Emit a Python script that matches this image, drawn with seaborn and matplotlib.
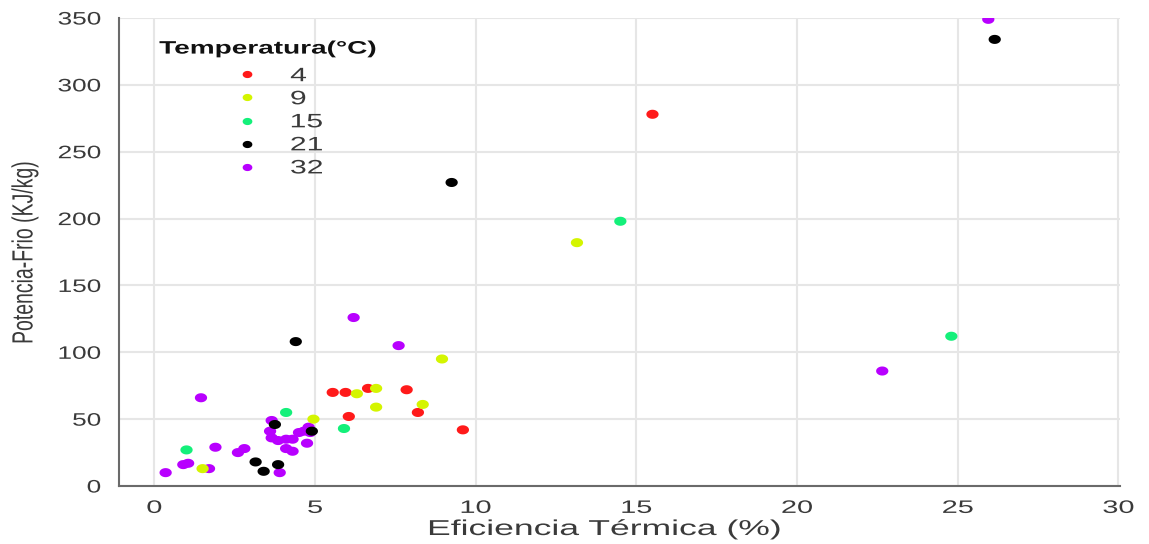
import numpy as np
import pandas as pd
import seaborn as sns
import matplotlib
matplotlib.use("Agg")
import matplotlib.pyplot as plt
from matplotlib.path import Path
from matplotlib.lines import Line2D
from matplotlib.patheffects import AbstractPathEffect
from matplotlib.transforms import Affine2D

# Eficiencia térmica (%) y potencia frigorífica (KJ/kg) por temperatura
t4_x = [15.5, 7.85, 8.2, 9.6, 5.55, 5.95, 6.05, 6.65]
t4_y = [278, 72, 55, 42, 70, 70, 52, 73]

t9_x = [13.15, 8.95, 6.9, 6.3, 6.9, 8.35, 4.95, 1.5]
t9_y = [182, 95, 73, 69, 59, 61, 50, 13]

t15_x = [14.5, 24.8, 1.0, 4.1, 5.9]
t15_y = [198, 112, 27, 55, 43]

t21_x = [26.15, 9.25, 4.4, 3.75, 4.9, 3.15, 3.85, 3.4]
t21_y = [334, 227, 108, 46, 41, 18, 16, 11]

t32_x = [25.95, 22.65, 6.2, 7.6, 1.45, 1.9, 1.05, 0.9, 1.7, 0.35, 3.65, 3.6,
         3.65, 3.85, 4.1, 4.3, 4.5, 4.65, 4.8, 4.85, 4.75, 4.1, 4.3, 2.8, 2.6, 3.9]
t32_y = [349, 86, 126, 105, 66, 29, 17, 16, 13, 10, 49, 41,
         36, 34, 35, 35, 40, 41, 44, 40, 32, 28, 26, 28, 25, 10]

temps = ["4", "9", "15", "21", "32"]
colors = ["#ff1a1a", "#d4f500", "#14f07a", "#000000", "#b800ff"]
x_ticks = [0, 5, 10, 15, 20, 25, 30]
y_ticks = [0, 50, 100, 150, 200, 250, 300, 350]

series = {"4": (t4_x, t4_y), "9": (t9_x, t9_y), "15": (t15_x, t15_y),
          "21": (t21_x, t21_y), "32": (t32_x, t32_y)}
draw_order = ["32", "4", "9", "15", "21"]
df = pd.concat(
    [pd.DataFrame({"ef": series[t][0], "pot": series[t][1], "temp": t}) for t in draw_order],
    ignore_index=True,
)
palette = dict(zip(temps, colors))


class Widen(AbstractPathEffect):
    """Draw text glyphs stretched horizontally about a chosen anchor."""

    def __init__(self, sx=1.6, anchor="center"):
        super().__init__()
        self.sx = sx
        self.anchor = anchor

    def draw_path(self, renderer, gc, tpath, affine, rgbFace=None):
        if len(tpath.vertices) == 0:
            return
        ext = tpath.get_extents(affine)
        if self.anchor == "left":
            x0 = ext.x0
        elif self.anchor == "right":
            x0 = ext.x1
        else:
            x0 = 0.5 * (ext.x0 + ext.x1)
        tr = affine + Affine2D().translate(-x0, 0).scale(self.sx, 1).translate(x0, 0)
        renderer.draw_path(gc, tpath, tr, rgbFace)


sns.set_theme(style="whitegrid")
plt.rcParams["font.family"] = ["Liberation Sans", "DejaVu Sans"]

fig = plt.figure(figsize=(11.49, 5.44), dpi=100)
ax = fig.add_axes([0.1036, 0.1066, 0.8712, 0.8603])

# slightly wide elliptical dot
th = np.linspace(0, 2 * np.pi, 40)
ellipse = Path(np.column_stack([np.cos(th), 0.74 * np.sin(th)]), closed=True)

sns.scatterplot(data=df, x="ef", y="pot", hue="temp", hue_order=temps,
                palette=palette, marker=ellipse, s=78, linewidth=0,
                legend=False, ax=ax)

ax.set_xlim(-1.1, 30.05)
ax.set_ylim(0, 350)
ax.set_xticks(x_ticks)
ax.set_yticks(y_ticks)
ax.grid(True, color="#e6e6e6", linewidth=1.5)
ax.set_axisbelow(True)
for side in ["top", "right"]:
    ax.spines[side].set_visible(False)
for side in ["left", "bottom"]:
    ax.spines[side].set_color("#6a6a6a")
    ax.spines[side].set_linewidth(1.5)
ax.tick_params(axis="both", direction="in", length=6, width=1.2, color="#6a6a6a",
               labelsize=13, labelcolor="#3a3a3a")
ax.tick_params(axis="x", pad=10)
ax.tick_params(axis="y", pad=13)

ax.set_xlabel("Eficiencia Térmica (%)", fontsize=15.5, color="#3a3a3a")
ax.set_ylabel("Potencia-Frio (KJ/kg)", fontsize=14, color="#3a3a3a")
ax.xaxis.set_label_coords(0.4845, -0.0705)
ax.yaxis.set_label_coords(-0.085, 0.5)

for lab in ax.get_xticklabels():
    lab.set_path_effects([Widen(1.6, "center")])
for lab in ax.get_yticklabels():
    lab.set_path_effects([Widen(1.45, "right")])
ax.xaxis.label.set_path_effects([Widen(1.65, "center")])
ax.yaxis.label.set_path_effects([Widen(1.5, "center")])

handles = [Line2D([], [], linestyle="none", marker=ellipse, markersize=7,
                  markerfacecolor=palette[t], markeredgewidth=0) for t in temps]
leg = ax.legend(handles, temps, title="Temperatura(°C)", loc="upper left",
                bbox_to_anchor=(0.1601, 0.9504), bbox_transform=fig.transFigure,
                frameon=False, fontsize=14,
                title_fontproperties={"weight": "bold", "size": 13},
                labelspacing=0.28, handlelength=2.53, handletextpad=0.95,
                borderpad=0.2)
leg._legend_box.sep = 7.2
leg.get_title().set_color("#111111")
leg.get_title().set_path_effects([Widen(1.55, "center")])
for txt in leg.get_texts():
    txt.set_color("#3a3a3a")
    txt.set_path_effects([Widen(1.55, "left")])

fig.savefig("out.png", dpi=100, facecolor="white")
